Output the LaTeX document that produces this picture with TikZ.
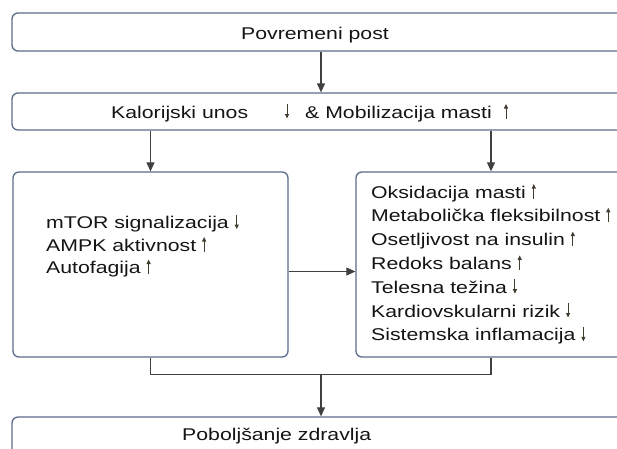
\documentclass[tikz,border=0pt]{standalone}
\usepackage{fontspec}
\setmainfont[FakeStretch=1.25]{Liberation Sans}
\usetikzlibrary{arrows.meta}
\definecolor{boxline}{RGB}{92,106,140}
\definecolor{linkline}{RGB}{64,64,64}
\definecolor{textcol}{RGB}{20,20,20}
\definecolor{arrowcol}{RGB}{66,60,46}
\tikzset{
	stage/.style={draw=boxline, line width=1.3pt, rounded corners=6pt, inner sep=0pt},
	link/.style={draw=linkline, line width=1.1pt},
	arr/.style={link, -{Triangle[width=8pt,length=9pt]}},
	lbl/.style={text=textcol, inner sep=0pt, font=\fontsize{17}{19}\selectfont},
	textarrow/.style={draw=arrowcol, line width=1pt, -{Triangle[length=4.5pt,width=4pt]}},
}
\newcommand{\arrup}{\tikz[baseline=0pt]\draw[textarrow] (0pt,-0.5pt) -- (0pt,14pt);}
\newcommand{\arrdown}{\tikz[baseline=0pt]\draw[textarrow] (0pt,14pt) -- (0pt,-0.5pt);}

\begin{document}
\begin{tikzpicture}[x=1pt,y=-1pt]
		\clip (0,0) rectangle (617,448);
		% boxes
		\node[stage, minimum width=618pt, minimum height=38pt] (post) at (321,32){};
		\node[stage, minimum width=618pt, minimum height=37pt] (unos) at (321,111.5){};
		\node[stage, minimum width=275pt, minimum height=185pt] (cell) at (150.5,264.5){};
		\node[stage, minimum width=270pt, minimum height=185pt] (body) at (491,264.5){};
		\node[stage, minimum width=618pt, minimum height=38pt] (zdr) at (321,436){};
		% texts
		\node[lbl, anchor=base] (tpost) at (315,39.5){Povremeni post};
		\node[lbl, anchor=base west] (tunos) at (111,118){Kalorijski unos};
		\node[lbl, anchor=base] (tpad) at (287,118){\arrdown};
		\node[lbl, anchor=base west] (tmob) at (305,118){\& Mobilizacija masti};
		\node[lbl, anchor=base] (trast) at (506,118){\arrup};
		\node[lbl, anchor=base west] (tzdr) at (182,440){Poboljšanje zdravlja};
		\foreach \t [count=\i] in {mTOR signalizacija \arrdown, AMPK aktivnost \arrup, Autofagija \arrup}
			\node[lbl, anchor=base west] (c\i) at (46,{228.5+22.5*(\i-1)}){\t};
		\foreach \t [count=\i] in {Oksidacija masti \arrup, Metabolička fleksibilnost \arrup, Osetljivost na insulin \arrup,
			Redoks balans \arrup, Telesna težina \arrdown, Kardiovskularni rizik \arrdown, Sistemska inflamacija \arrdown}
			\node[lbl, anchor=base west] (b\i) at (371,{198+23.8*(\i-1)}){\t};
		% connectors
		\draw[arr] (post.south) -- (unos.north);
		\draw[arr] (cell.north |- unos.south) -- (cell.north);
		\draw[arr] (body.north |- unos.south) -- (body.north);
		\draw[arr] ([yshift=-7pt]cell.east) -- ([yshift=-7pt]body.west);
		\coordinate (join) at (321,374.5);
		\draw[link] (cell.south) |- (join) -| (body.south);
		\draw[arr] (join) -- (zdr.north);
\end{tikzpicture}
\end{document}
